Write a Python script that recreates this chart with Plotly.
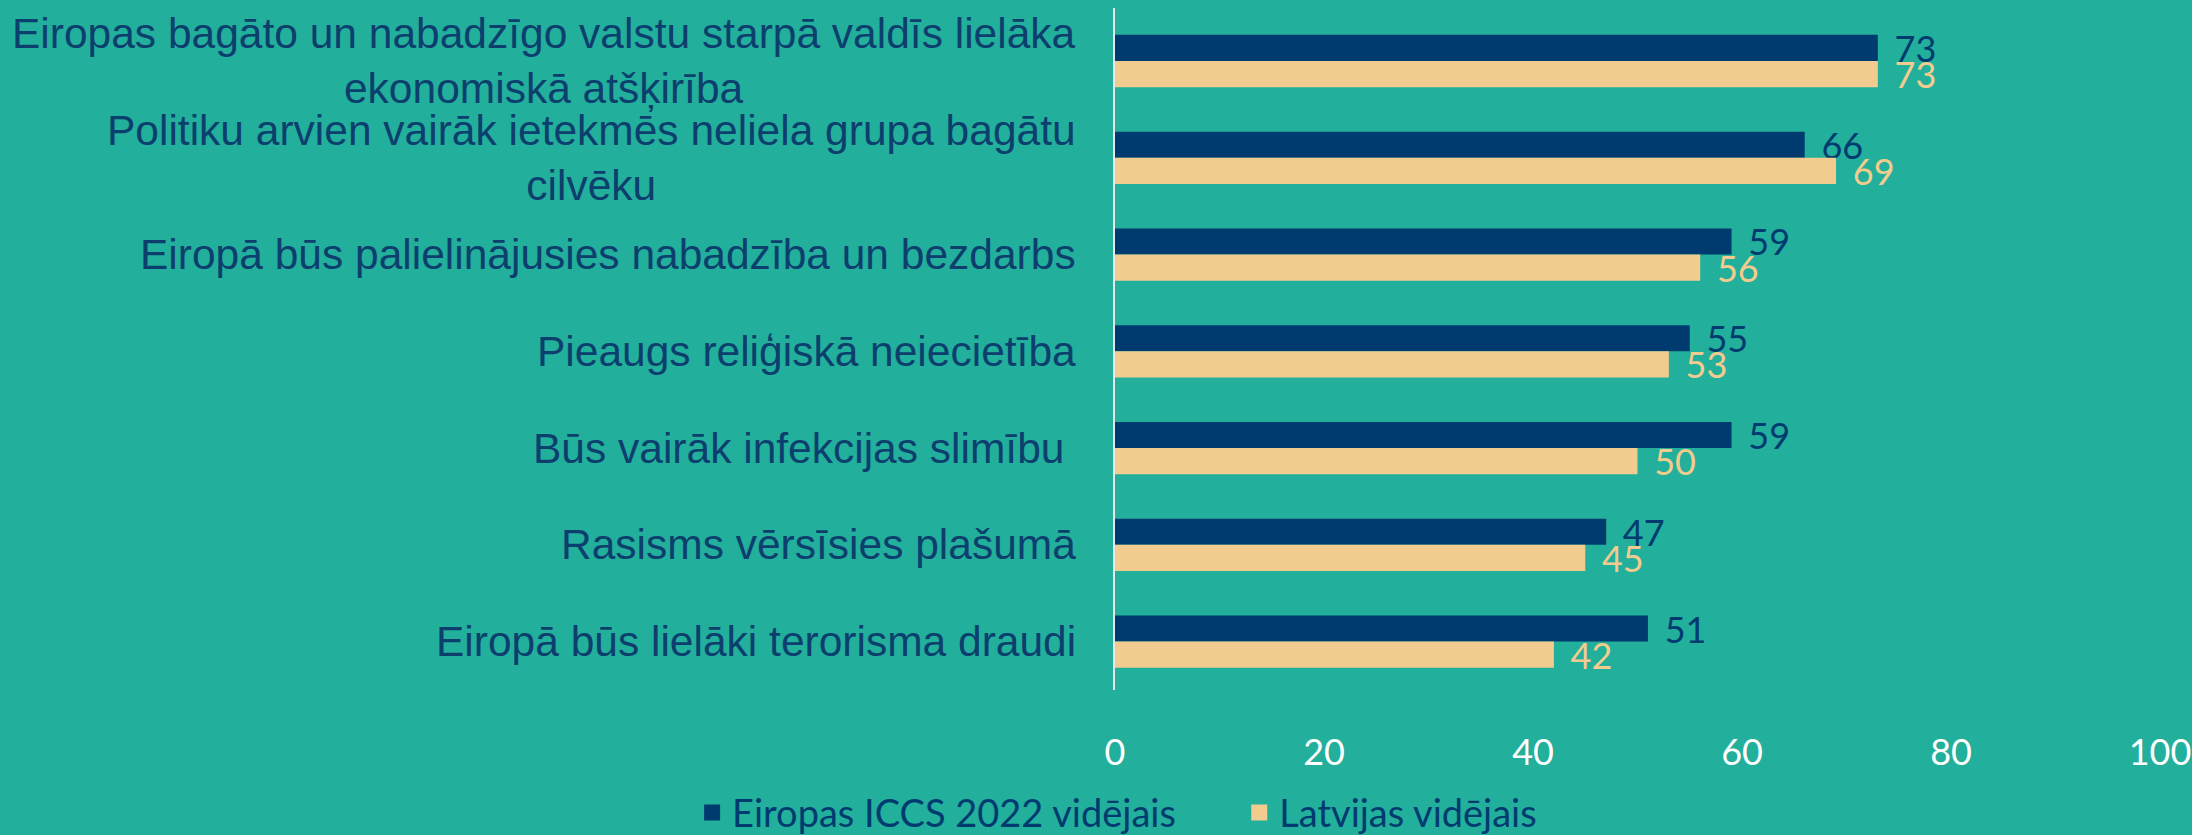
import plotly.graph_objects as go

categories = [
    "Eiropas bagāto un nabadzīgo valstu starpā valdīs lielāka<br>ekonomiskā atšķirība",
    "Politiku arvien vairāk ietekmēs neliela grupa bagātu<br>cilvēku",
    "Eiropā būs palielinājusies nabadzība un bezdarbs",
    "Pieaugs reliģiskā neiecietība",
    "Būs vairāk infekcijas slimību ",
    "Rasisms vērsīsies plašumā",
    "Eiropā būs lielāki terorisma draudi",
]
europe_avg = [73, 66, 59, 55, 59, 47, 51]
latvia_avg = [73, 69, 56, 53, 50, 45, 42]
series_names = ["Eiropas ICCS 2022 vidējais", "Latvijas vidējais"]
x_ticks = [0, 20, 40, 60, 80, 100]

BG = "#22AF9B"
NAVY = "#003B70"
BEIGE = "#F2CC8F"
LABEL_NAVY = "#0D3F6E"
NUM_FONT = "Lato, Noto Sans, sans-serif"

fig = go.Figure()
for vals, name, color in [(europe_avg, series_names[0], NAVY), (latvia_avg, series_names[1], BEIGE)]:
    fig.add_trace(go.Bar(
        y=categories, x=vals, orientation="h", name=name, showlegend=False,
        marker=dict(color=color, line=dict(width=0)),
        text=vals, texttemplate="\u00a0\u2009%{text}", textposition="outside",
        constraintext="none", cliponaxis=False,
        textfont=dict(color=color, size=36, family=NUM_FONT),
    ))
# legend entries with larger square swatches
legend_pad = ["\u00a0" * 6, ""]
for name, color, pad in [(series_names[0], NAVY, legend_pad[0]), (series_names[1], BEIGE, legend_pad[1])]:
    fig.add_trace(go.Scatter(
        x=[None], y=[None], mode="markers", name=name + pad,
        marker=dict(symbol="square", size=16, color=color),
    ))

for cat in categories:
    fig.add_annotation(
        x=0, xref="paper", y=cat, yref="y", xanchor="right", yanchor="middle",
        xshift=-37, text=cat, showarrow=False, align="center",
        font=dict(color=LABEL_NAVY, size=42.5, family="Liberation Sans, Arial, sans-serif"),
    )

fig.update_layout(
    width=2192, height=835,
    paper_bgcolor=BG, plot_bgcolor=BG,
    margin=dict(l=1115, r=32, t=8, b=145, autoexpand=False),
    barmode="group", bargap=0.46, bargroupgap=0,
    showlegend=True,
    legend=dict(
        orientation="h", x=0.002, xanchor="center", y=-0.18, yanchor="middle",
        font=dict(color=NAVY, size=38, family=NUM_FONT),
        bgcolor="rgba(0,0,0,0)", itemwidth=30, itemsizing="trace",
    ),
    xaxis=dict(
        range=[0, 100], tickvals=x_ticks, showgrid=False, zeroline=False,
        showline=False, ticks="", ticklabelstandoff=38,
        tickfont=dict(color="white", size=36, family=NUM_FONT),
    ),
    yaxis=dict(
        autorange="reversed", showgrid=False, zeroline=False,
        showline=True, linecolor="#E8E8E8", linewidth=2, ticks="",
        showticklabels=False,
    ),
)

fig.write_html("out.html", config={"displayModeBar": False},
               post_script="document.body.style.margin='0';")
